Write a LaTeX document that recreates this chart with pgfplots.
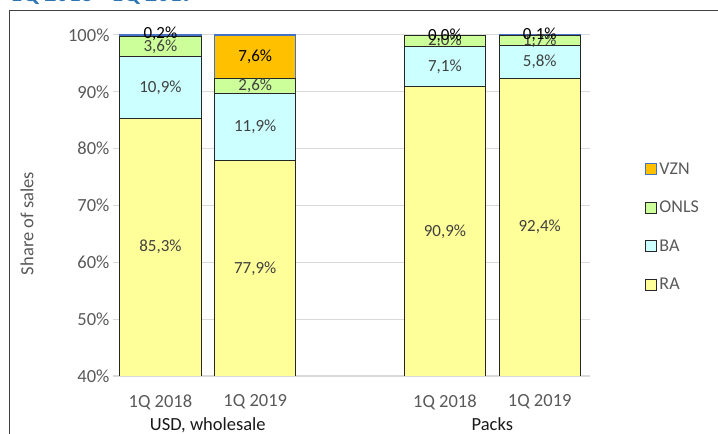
\documentclass[border=0pt]{standalone}
\usepackage{pgfplots}
\pgfplotsset{compat=1.18}
\usepackage{fontspec}
\setmainfont{Carlito}
\definecolor{ra}{HTML}{FFFF99}
\definecolor{ba}{HTML}{CCFFFF}
\definecolor{onls}{HTML}{CCFF99}
\definecolor{vzn}{HTML}{FFC000}
\definecolor{vznedge}{HTML}{4472C4}
\definecolor{txt}{HTML}{595959}
\definecolor{lbl}{HTML}{404040}
\definecolor{gridc}{HTML}{D9D9D9}
\definecolor{ttl}{HTML}{2E75B6}
\pgfplotsset{
  /pgf/number format/assume math mode=true,
  myaxis/.style={
    scale only axis, width=477pt, height=343.84pt, at={(113pt,58pt)}, anchor=south west,
    xmin=-0.5, xmax=4.53, ymin=40, ymax=100.5,
  },
  sq/.style={legend image code/.code={\draw[##1] (0pt,-5.5pt) rectangle (11pt,5.5pt);}},
}
\begin{document}
\begin{tikzpicture}[x=1pt,y=1pt]
\useasboundingbox (0,0) rectangle (718,434);
\node[anchor=base west, font=\fontsize{24}{28}\selectfont\bfseries, text=ttl, inner sep=0] at (10,432.5) {1Q 2018 - 1Q 2019};
\draw[lbl, line width=1pt] (9.5,-5) -- (9.5,423.5) -- (725,423.5);

\begin{axis}[myaxis, ybar stacked, bar width=0.855,
  axis lines*=left,
  y axis line style={draw=none},
  x axis line style={draw=gridc, line width=1.5pt},
  ytick={40,50,...,100},
  yticklabel={\pgfmathprintnumber{\tick}\%},
  ymajorgrids, grid style={gridc, line width=1pt},
  xtick={0,1,3,4},
  xticklabels={1Q 2018,1Q 2019,1Q 2018,1Q 2019},
  xticklabel style={yshift=-15pt},
  extra x ticks={0.5,3.5},
  extra x tick labels={{USD, wholesale},Packs},
  extra x tick style={grid=none, xticklabel style={yshift=-23pt, text=black!90}},
  major tick length=0pt,
  tick label style={font=\fontsize{18.5}{22}\selectfont, text=txt},
  ylabel={Share of sales},
  ylabel style={font=\fontsize{18.5}{22}\selectfont, text=txt, at={(axis description cs:-0.180,0.4435)}, anchor=center},
  legend style={at={(1.109,0.633)}, anchor=north west, draw=none, fill=none,
    font=\fontsize{18}{21}\selectfont, text=txt, row sep=21.5pt},
  legend cell align=left,
  reverse legend,
]
\addplot[fill=ra, draw=black!85, line width=0.8pt, sq] coordinates {(0,85.3) (1,77.9) (3,90.9) (4,92.4)};
\addplot[fill=ba, draw=black!85, line width=0.8pt, sq] coordinates {(0,10.9) (1,11.9) (3,7.1) (4,5.8)};
\addplot[fill=onls, draw=black!85, line width=0.8pt, sq] coordinates {(0,3.6) (1,2.6) (3,2.0) (4,1.7)};
\addplot[fill=vzn, draw=vznedge, line width=1.3pt, sq] coordinates {(0,0.2) (1,7.6) (3,0.0) (4,0.1)};
\legend{RA,BA,ONLS,VZN}
\end{axis}

\begin{axis}[myaxis, hide axis, clip=false]
\addplot[only marks, mark=*, mark size=0pt, mark options={draw=none,fill=none},
  point meta=explicit,
  nodes near coords={\pgfmathprintnumber[fixed,fixed zerofill,precision=1,use comma]{\pgfplotspointmeta}\%},
  every node near coord/.style={anchor=center, font=\fontsize{17}{20}\selectfont, text=lbl}]
  table[meta=v] {
x y v
0 62.65 85.3
1 58.95 77.9
3 65.45 90.9
4 66.2 92.4
0 90.75 10.9
1 83.85 11.9
3 94.45 7.1
4 95.2 5.8
0 97.9 3.6
1 91.1 2.6
3 98.9 2.0
4 99.0 1.7
};
\addplot[only marks, mark=*, mark size=0pt, mark options={draw=none,fill=none},
  point meta=explicit,
  nodes near coords={\pgfmathprintnumber[fixed,fixed zerofill,precision=1,use comma]{\pgfplotspointmeta}\%},
  every node near coord/.style={anchor=center, font=\fontsize{17}{20}\selectfont, text=black}]
  table[meta=v] {
x y v
0 100.2 0.2
1 96.2 7.6
3 99.9 0.0
4 100.0 0.1
};
\end{axis}
\end{tikzpicture}
\end{document}
